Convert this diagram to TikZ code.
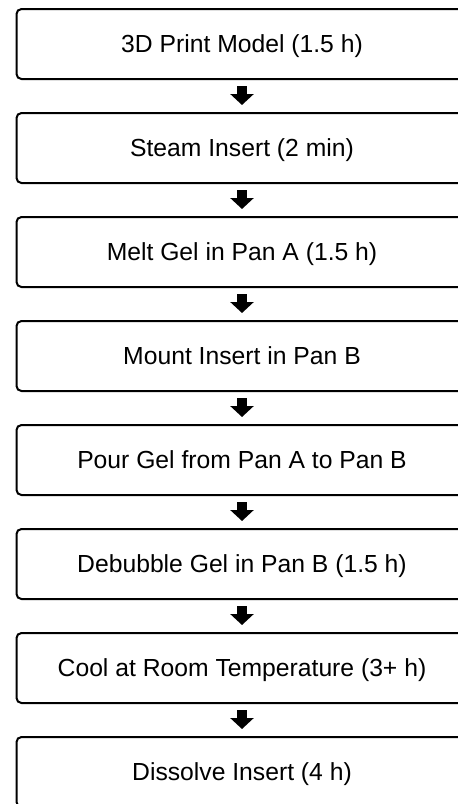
\documentclass[tikz,border=0pt]{standalone}
\usepackage{fontspec}
\setmainfont{Liberation Sans}
\usetikzlibrary{arrows.meta}
\tikzset{
  stepbox/.style={draw=black, line width=2pt, rounded corners=5pt,
    minimum width=451pt, minimum height=70pt, text height=17.7pt, text depth=0pt,
    font=\fontsize{24.7}{30}\selectfont},
  blockarrow/.style={line width=10pt, -{Triangle[width=23pt,length=11pt]},
    shorten <=6pt, shorten >=7pt}
}
\begin{document}
\begin{tikzpicture}[x=1pt,y=1pt]
\useasboundingbox (0,0) rectangle (458,-804);
\node[stepbox] (b1) at (242,-44) {3D Print Model (1.5 h)};
\node[stepbox] (b2) at (242,-148) {Steam Insert (2 min)};
\node[stepbox] (b3) at (242,-252) {Melt Gel in Pan A (1.5 h)};
\node[stepbox] (b4) at (242,-356) {Mount Insert in Pan B};
\node[stepbox] (b5) at (242,-460) {Pour Gel from Pan A to Pan B};
\node[stepbox] (b6) at (242,-564) {Debubble Gel in Pan B (1.5 h)};
\node[stepbox] (b7) at (242,-668) {Cool at Room Temperature (3+ h)};
\node[stepbox] (b8) at (242,-772) {Dissolve Insert (4 h)};
\foreach \i [evaluate=\i as \j using int(\i+1)] in {1,...,7}
  \draw[blockarrow] (b\i) -- (b\j);
\end{tikzpicture}
\end{document}
